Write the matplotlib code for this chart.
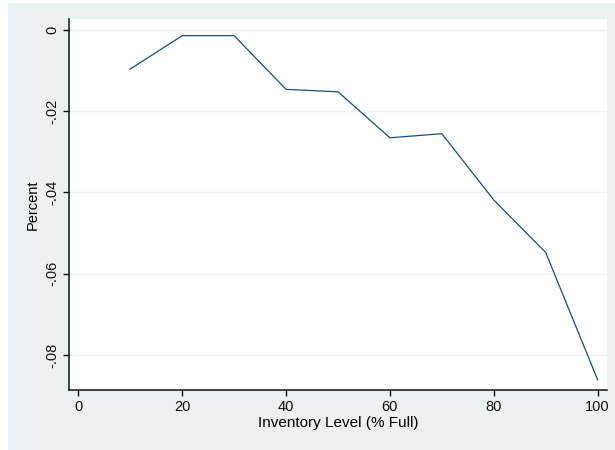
import matplotlib
matplotlib.use("Agg")
import matplotlib.pyplot as plt
from matplotlib.patches import Rectangle

inventory_level = [10, 20, 30, 40, 50, 60, 70, 80, 90, 100]
percent = [-0.0097, -0.0015, -0.0015, -0.0147, -0.0153, -0.0266, -0.0256, -0.0419, -0.0548, -0.0861]
x_ticks = [0, 20, 40, 60, 80, 100]
y_ticks = [0, -0.02, -0.04, -0.06, -0.08]
y_tick_labels = ["0", "-.02", "-.04", "-.06", "-.08"]

plt.rcParams['font.family'] = ['Liberation Sans', 'DejaVu Sans']

fig = plt.figure(figsize=(6.15, 4.5), dpi=100)
fig.patch.set_facecolor('white')
bg = Rectangle((8 / 615, 0), 1 - 8 / 615, 447 / 450, transform=fig.transFigure,
               facecolor='#EAF2F3', edgecolor='none', zorder=-10)
fig.patches.append(bg)

ax = fig.add_axes([69 / 615, 1 - 390 / 450, (607 - 69) / 615, (390 - 19) / 450])
ax.set_zorder(5)
ax.set_facecolor('white')
ax.plot(inventory_level, percent, color='#1f4a75', linewidth=0.9)

ax.set_xlim(-1.8, 101.8)
ax.set_ylim(-0.0886, 0.0026)
ax.set_xticks(x_ticks)
ax.set_xticklabels([str(v) for v in x_ticks])
ax.set_yticks(y_ticks)
ax.set_yticklabels(y_tick_labels, rotation=90, va='center')

ax.grid(axis='y', color='#EAF2F3', linewidth=1.0)
ax.set_axisbelow(True)
for side in ['top', 'right']:
    ax.spines[side].set_visible(False)
for side in ['left', 'bottom']:
    ax.spines[side].set_linewidth(1.1)
    ax.spines[side].set_color('#111111')

ax.tick_params(axis='both', direction='out', length=4, width=1, labelsize=10.5, colors='#111111', pad=3)
ax.set_xlabel('Inventory Level (% Full)', fontsize=11, labelpad=1.5)
ax.set_ylabel('Percent', fontsize=10.5, labelpad=4)

fig.savefig('out.png', dpi=100)
